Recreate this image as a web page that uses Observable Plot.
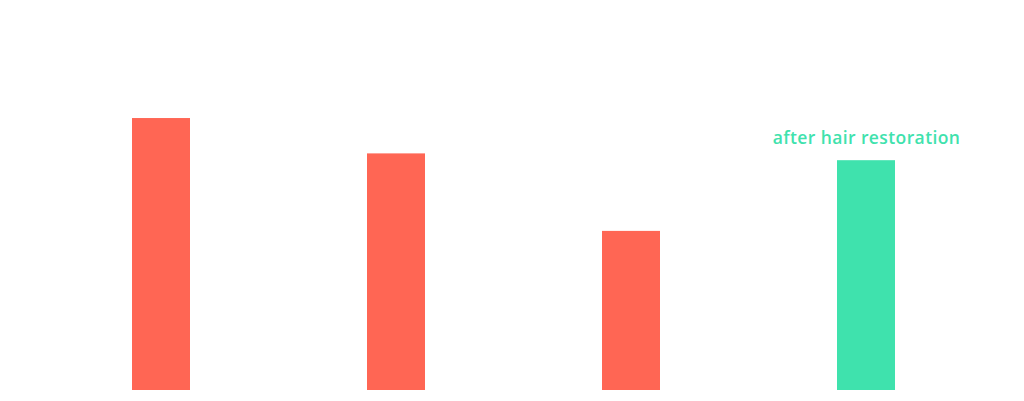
<!DOCTYPE html>
<html>
<head>
<meta charset="utf-8">
<script src="https://cdn.jsdelivr.net/npm/d3@7"></script>
<script src="https://cdn.jsdelivr.net/npm/@observablehq/plot@0.6"></script>
<style>
  html, body { margin: 0; padding: 0; background: #fff; }
  #chart svg text { letter-spacing: 0.4px; }
</style>
</head>
<body>
<div id="chart"></div>
<script>
const categories = ["A", "B", "C", "D"];
const values = [100, 87, 58.5, 84.5];
const colors = ["#FF6654", "#FF6654", "#FF6654", "#3FE2AD"];
const labels = ["", "", "", "after hair restoration"];

const data = categories.map((c, i) => ({cat: c, value: values[i], color: colors[i], label: labels[i]}));

const chart = Plot.plot({
  width: 1024,
  height: 401,
  marginLeft: 132,
  marginRight: 128,
  marginTop: 0,
  marginBottom: 11,
  style: {background: "#fff"},
  x: {domain: categories, axis: null, paddingInner: 0.753, paddingOuter: 0},
  y: {domain: [0, 143.4], axis: null},
  marks: [
    Plot.barY(data, {x: "cat", y: "value", fill: "color"}),
    Plot.text(data.filter(d => d.label), {
      x: "cat", y: "value", text: "label", dy: -22,
      fill: "#3FE2AD", fontSize: 17.5, fontWeight: 600,
      fontFamily: "Open Sans", textAnchor: "middle"
    })
  ]
});
document.getElementById("chart").appendChild(chart);
</script>
</body>
</html>
